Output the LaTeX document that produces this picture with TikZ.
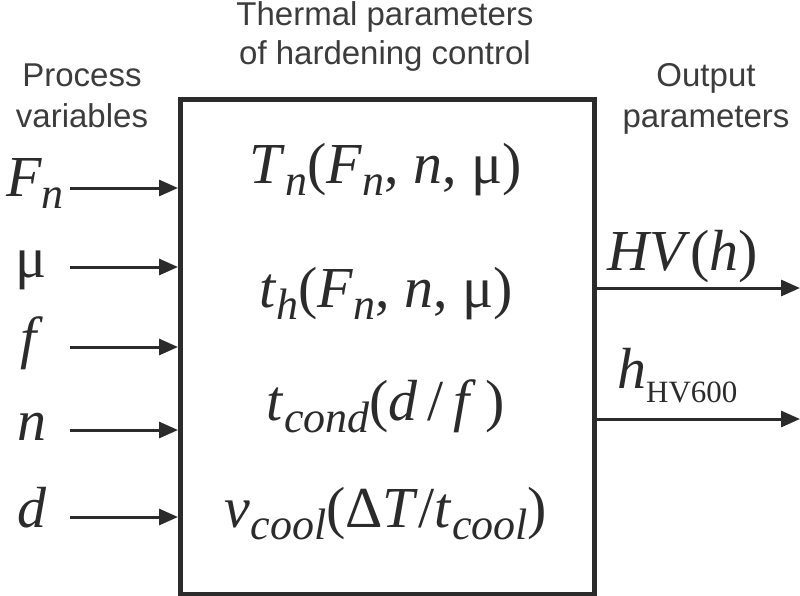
\documentclass[tikz,border=0pt]{standalone}
\usepackage{fontspec}
\setmainfont{Liberation Serif}
\newfontfamily\labfont{Liberation Sans}
\usetikzlibrary{arrows.meta}
\definecolor{ink}{HTML}{2B2B2B}
\definecolor{graytext}{HTML}{3C3C3C}
\newcommand\lsub[1]{\raisebox{-12pt}{\fontsize{44}{44}\selectfont\itshape #1}}
\newcommand\usub[1]{\raisebox{-14pt}{\fontsize{31}{31}\selectfont #1}}
\begin{document}
\begin{tikzpicture}[x=1pt,y=-1pt,
  head/.style={font=\labfont\fontsize{33}{33}\selectfont, text=graytext, anchor=base, inner sep=0},
  mathlab/.style={font=\fontsize{58}{58}\selectfont, text=ink, anchor=base, inner sep=0},
  arr/.style={draw=ink, line width=3pt, -{Triangle[length=19pt,width=16pt]}},
  block/.style={draw=ink, line width=4.5pt, inner sep=0, minimum width=414pt, minimum height=495pt, anchor=north west}]
\useasboundingbox (0,0) rectangle (800,595);
\fill[white] (0,0) rectangle (800,595);
% headings
\node[head] (h1a) at (385,25) {Thermal parameters};
\node[head] (h1b) at (385,64) {of hardening control};
\node[head] (h2a) at (82,86) {Process};
\node[head] (h2b) at (82,127) {variables};
\node[head] (h3a) at (706,86) {Output};
\node[head] (h3b) at (706,127) {parameters};
% box
\node[block] (box) at (178,97) {};
% box contents
\node[mathlab] (m1) at (386,183) {\textit{T}\lsub{n}(\textit{F}\lsub{n}, \textit{n}, μ)};
\node[mathlab] (m2) at (386,307) {\textit{t}\lsub{h}(\textit{F}\lsub{n}, \textit{n}, μ)};
\node[mathlab] (m3) at (386,420) {\textit{t}\lsub{cond}(\textit{d}\,/\,\textit{f}\,)};
\node[mathlab] (m4) at (386,527) {\textit{v}\lsub{cool}(Δ\textit{T}/\textit{t}\lsub{cool})};
% inputs
\node[mathlab] (lF) at (35,196) {\textit{F}\lsub{n}};
\node[mathlab] (lmu) at (31,277) {μ};
\node[mathlab] (lf) at (32,357) {\textit{f}};
\node[mathlab] (ln) at (32,440) {\textit{n}};
\node[mathlab] (ld) at (32,527) {\textit{d}};
\coordinate (i1) at (70,188);
\coordinate (i2) at (70,267);
\coordinate (i3) at (70,347);
\coordinate (i4) at (70,430);
\coordinate (i5) at (70,517);
\foreach \c in {i1,i2,i3,i4,i5}
  \draw[arr] (\c) -- (\c -| box.west);
% outputs
\coordinate (o1) at (800,288);
\coordinate (o2) at (800,419);
\draw[arr] (o1 -| box.east) -- (o1);
\draw[arr] (o2 -| box.east) -- (o2);
\node[mathlab, anchor=base west] (r1) at (607,270) {\textit{HV}(\textit{h})};
\node[mathlab, anchor=base west] (r2) at (617,388) {\textit{h}\usub{HV600}};
\end{tikzpicture}
\end{document}
